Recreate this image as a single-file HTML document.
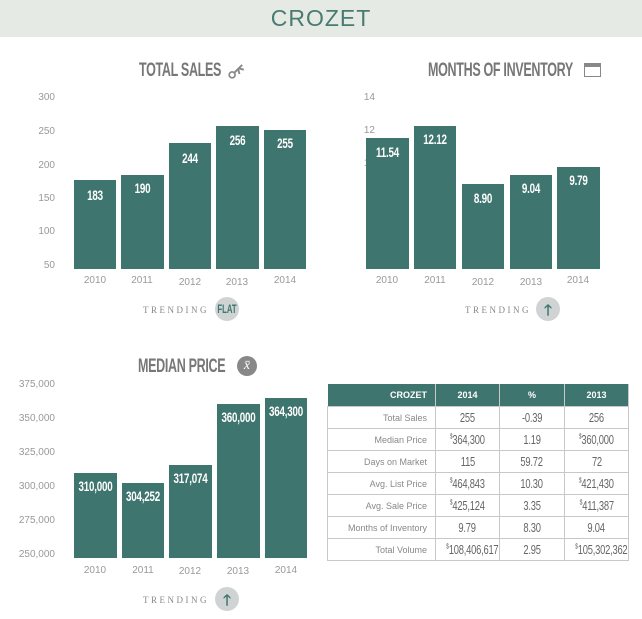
<!DOCTYPE html>
<html><head><meta charset="utf-8"><style>
body{margin:0;width:642px;height:619px;background:#fff;position:relative;overflow:hidden;font-family:"Liberation Sans",sans-serif}
.a{position:absolute;white-space:nowrap}
.bar{position:absolute;background:#3f756f}
.v{position:absolute;color:#fff;font-weight:bold;font-size:14px;left:-10px;right:-10px;text-align:center;transform:scaleX(0.7);letter-spacing:-0.3px;white-space:nowrap}
.yl{position:absolute;color:#999;font-size:10px;text-align:right}
.xl{position:absolute;color:#999;font-size:10px;text-align:center;width:44px}
.t{position:absolute;color:#777;font-weight:bold;font-size:19px;transform:scaleX(0.66);transform-origin:left;letter-spacing:-0.5px;white-space:nowrap}
.tr{position:absolute;color:#888;font-family:"Liberation Serif",serif;font-size:9px;letter-spacing:2.5px}
.c{position:absolute;width:24px;height:24px;border-radius:50%;background:#cfd3d3}
table{position:absolute;left:327px;top:384px;width:301px;border-collapse:collapse;table-layout:fixed;font-size:9px;color:#888}
td{border:1px solid #c8c8c8;height:21px;padding:0;text-align:center;white-space:nowrap;overflow:hidden}
td:first-child{text-align:right;padding-right:8px}
th{background:#3f756f;color:#fff;height:22px;font-size:9px;border-right:1px solid #c8c8c8;padding:0}
.n span{display:inline-block;font-size:13px;color:#666;transform:scaleX(0.72);letter-spacing:-0.3px}
sup{font-size:7px}
</style></head><body>
<div class="a" style="left:0;top:0;width:642px;height:37px;background:#e5ebe4"></div>
<div class="a" style="left:0;top:5px;width:642px;text-align:center;font-size:23px;color:#4a7b72;letter-spacing:1px">CROZET</div>

<div class="t" style="left:139px;top:60px">TOTAL SALES</div>
<div class="a" style="left:228px;top:58px;font-size:22px;color:#888;transform:rotate(45deg)">⚷</div>
<div class="t" style="left:428px;top:60px">MONTHS OF INVENTORY</div>
<div class="a" style="left:584px;top:63px;width:17px;height:14px;border:1.5px solid #888;border-top-width:4px;box-sizing:border-box"></div>

<div class="yl" style="left:20px;top:92px;width:35px">300</div>
<div class="yl" style="left:20px;top:126px;width:35px">250</div>
<div class="yl" style="left:20px;top:160px;width:35px">200</div>
<div class="yl" style="left:20px;top:193px;width:35px">150</div>
<div class="yl" style="left:20px;top:226px;width:35px">100</div>
<div class="yl" style="left:20px;top:260px;width:35px">50</div>
<div class="bar" style="left:74px;top:180px;width:42px;height:89px"><div class="v" style="top:7px">183</div></div>
<div class="bar" style="left:121px;top:175px;width:43px;height:94px"><div class="v" style="top:5px">190</div></div>
<div class="bar" style="left:169px;top:143px;width:42px;height:126px"><div class="v" style="top:7px">244</div></div>
<div class="bar" style="left:216px;top:126px;width:43px;height:143px"><div class="v" style="top:6px">256</div></div>
<div class="bar" style="left:264px;top:130px;width:42px;height:139px"><div class="v" style="top:5px">255</div></div>
<div class="xl" style="left:73px;top:275px">2010</div>
<div class="xl" style="left:120px;top:275px">2011</div>
<div class="xl" style="left:168px;top:277px">2012</div>
<div class="xl" style="left:215px;top:277px">2013</div>
<div class="xl" style="left:263px;top:275px">2014</div>
<div class="tr" style="left:143px;top:305px">TRENDING</div>
<div class="c" style="left:215px;top:297px"></div>
<div class="a" style="left:211px;top:302px;width:32px;text-align:center;font-weight:bold;font-size:12px;color:#3f756f;transform:scaleX(0.65)">FLAT</div>

<div class="yl" style="left:340px;top:92px;width:35px">14</div>
<div class="yl" style="left:340px;top:125px;width:35px">12</div>
<div class="yl" style="left:340px;top:158px;width:35px">10</div>
<div class="yl" style="left:340px;top:192px;width:35px">8</div>
<div class="yl" style="left:340px;top:226px;width:35px">6</div>
<div class="yl" style="left:340px;top:259px;width:35px">4</div>
<div class="bar" style="left:366px;top:138px;width:43px;height:131px"><div class="v" style="top:6px">11.54</div></div>
<div class="bar" style="left:414px;top:126px;width:42px;height:143px"><div class="v" style="top:5px">12.12</div></div>
<div class="bar" style="left:462px;top:184px;width:42px;height:85px"><div class="v" style="top:6px">8.90</div></div>
<div class="bar" style="left:510px;top:175px;width:42px;height:94px"><div class="v" style="top:5px">9.04</div></div>
<div class="bar" style="left:557px;top:167px;width:43px;height:102px"><div class="v" style="top:5px">9.79</div></div>
<div class="xl" style="left:365px;top:275px">2010</div>
<div class="xl" style="left:413px;top:275px">2011</div>
<div class="xl" style="left:461px;top:277px">2012</div>
<div class="xl" style="left:509px;top:277px">2013</div>
<div class="xl" style="left:556px;top:275px">2014</div>
<div class="tr" style="left:465px;top:305px">TRENDING</div>
<div class="c" style="left:536px;top:297px"></div>
<div class="a" style="left:536px;top:300px;width:24px;text-align:center;font-size:15px;font-weight:bold;color:#3f756f">🡑</div>

<div class="t" style="left:138px;top:356px">MEDIAN PRICE</div>
<div class="a" style="left:237px;top:356px;width:20px;height:20px;border-radius:50%;background:#888;color:#fff;text-align:center;font-family:'Liberation Serif',serif;font-style:italic;font-size:14px;line-height:19px">x̄</div>
<div class="yl" style="left:5px;top:379px;width:50px">375,000</div>
<div class="yl" style="left:5px;top:413px;width:50px">350,000</div>
<div class="yl" style="left:5px;top:447px;width:50px">325,000</div>
<div class="yl" style="left:5px;top:481px;width:50px">300,000</div>
<div class="yl" style="left:5px;top:515px;width:50px">275,000</div>
<div class="yl" style="left:5px;top:549px;width:50px">250,000</div>
<div class="bar" style="left:74px;top:473px;width:43px;height:85px"><div class="v" style="top:5px">310,000</div></div>
<div class="bar" style="left:122px;top:483px;width:42px;height:75px"><div class="v" style="top:5px">304,252</div></div>
<div class="bar" style="left:169px;top:465px;width:43px;height:93px"><div class="v" style="top:5px">317,074</div></div>
<div class="bar" style="left:217px;top:404px;width:43px;height:154px"><div class="v" style="top:5px">360,000</div></div>
<div class="bar" style="left:265px;top:398px;width:42px;height:160px"><div class="v" style="top:5px">364,300</div></div>
<div class="xl" style="left:73px;top:565px">2010</div>
<div class="xl" style="left:121px;top:565px">2011</div>
<div class="xl" style="left:168px;top:566px">2012</div>
<div class="xl" style="left:216px;top:566px">2013</div>
<div class="xl" style="left:264px;top:565px">2014</div>
<div class="tr" style="left:143px;top:595px">TRENDING</div>
<div class="c" style="left:215px;top:587px"></div>
<div class="a" style="left:215px;top:590px;width:24px;text-align:center;font-size:15px;font-weight:bold;color:#3f756f">🡑</div>

<table>
<colgroup><col style="width:108px"><col style="width:64px"><col style="width:65px"><col style="width:64px"></colgroup>
<tr><th style="text-align:right;padding-right:8px">CROZET</th><th>2014</th><th>%</th><th>2013</th></tr>
<tr><td>Total Sales</td><td class="n"><span>255</span></td><td class="n"><span>-0.39</span></td><td class="n"><span>256</span></td></tr>
<tr><td>Median Price</td><td class="n"><span><sup>$</sup>364,300</span></td><td class="n"><span>1.19</span></td><td class="n"><span><sup>$</sup>360,000</span></td></tr>
<tr><td>Days on Market</td><td class="n"><span>115</span></td><td class="n"><span>59.72</span></td><td class="n"><span>72</span></td></tr>
<tr><td>Avg. List Price</td><td class="n"><span><sup>$</sup>464,843</span></td><td class="n"><span>10.30</span></td><td class="n"><span><sup>$</sup>421,430</span></td></tr>
<tr><td>Avg. Sale Price</td><td class="n"><span><sup>$</sup>425,124</span></td><td class="n"><span>3.35</span></td><td class="n"><span><sup>$</sup>411,387</span></td></tr>
<tr><td>Months of Inventory</td><td class="n"><span>9.79</span></td><td class="n"><span>8.30</span></td><td class="n"><span>9.04</span></td></tr>
<tr><td>Total Volume</td><td class="n"><span><sup>$</sup>108,406,617</span></td><td class="n"><span>2.95</span></td><td class="n"><span><sup>$</sup>105,302,362</span></td></tr>
</table>
</body></html>
